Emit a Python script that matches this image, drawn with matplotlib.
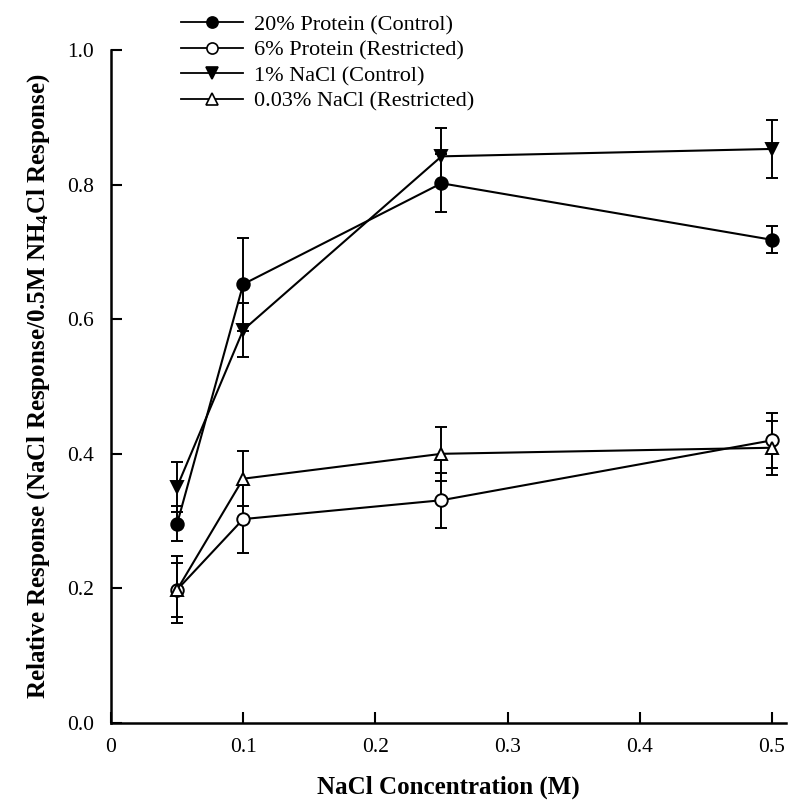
import matplotlib
matplotlib.use('Agg')
import matplotlib.pyplot as plt
from matplotlib.lines import Line2D

# ---- data ----
conc = [0.05, 0.1, 0.25, 0.5]
protein_control = [0.296, 0.652, 0.802, 0.718]
protein_control_err = [0.026, 0.069, 0.043, 0.020]
protein_restricted = [0.198, 0.303, 0.331, 0.420]
protein_restricted_err = [0.050, 0.050, 0.041, 0.041]
nacl_control = [0.351, 0.584, 0.842, 0.853]
nacl_control_err = [0.037, 0.040, 0.042, 0.043]
nacl_restricted = [0.198, 0.363, 0.400, 0.409]
nacl_restricted_err = [0.040, 0.041, 0.040, 0.040]
series_labels = ["20% Protein (Control)", "6% Protein (Restricted)",
                 "1% NaCl (Control)", "0.03% NaCl (Restricted)"]
xticks = [0, 0.1, 0.2, 0.3, 0.4, 0.5]
xticklabels = ["0", "0.1", "0.2", "0.3", "0.4", "0.5"]
yticks = [0.0, 0.2, 0.4, 0.6, 0.8, 1.0]
yticklabels = ["0.0", "0.2", "0.4", "0.6", "0.8", "1.0"]

plt.rcParams['font.family'] = ['Liberation Serif', 'DejaVu Serif']
plt.rcParams['mathtext.fontset'] = 'custom'
plt.rcParams['mathtext.rm'] = 'Liberation Serif'
plt.rcParams['mathtext.bf'] = 'Liberation Serif:bold'
plt.rcParams['mathtext.default'] = 'bf'

fig = plt.figure(figsize=(8, 8.08), dpi=100)
ax = fig.add_axes([0.13875, 0.1052, 0.9825 - 0.13875, 0.9381 - 0.1052])

common = dict(color='black', lw=1.5, ms=9, capsize=4, elinewidth=1.4,
              capthick=1.4, mec='black', mew=1.4)
styles = [('o', 'black'), ('o', 'white'), ('v', 'black'), ('^', 'white')]
data = [(protein_control, protein_control_err),
        (protein_restricted, protein_restricted_err),
        (nacl_control, nacl_control_err),
        (nacl_restricted, nacl_restricted_err)]
handles = []
for (vals, errs), (mk, fc), lab in zip(data, styles, series_labels):
    ax.errorbar(conc, vals, yerr=errs, marker=mk, mfc=fc, zorder=3, **common)
    handles.append(Line2D([], [], color='black', lw=1.3, marker=mk, mfc=fc,
                          mec='black', ms=8, mew=1.2, label=lab))

ax.set_xlim(0, 0.5106)
ax.set_ylim(0, 1.0)
ax.set_xticks(xticks)
ax.set_xticklabels(xticklabels)
ax.set_yticks(yticks)
ax.set_yticklabels(yticklabels)
ax.tick_params(direction='in', length=8, width=1.5, labelsize=15.5)
ax.tick_params(axis='y', pad=12)
ax.tick_params(axis='x', pad=11)
for s in ['top', 'right']:
    ax.spines[s].set_visible(False)
for s in ['left', 'bottom']:
    ax.spines[s].set_linewidth(1.8)

ax.set_xlabel("NaCl Concentration (M)", fontsize=18, fontweight='bold', labelpad=13)
ax.set_ylabel("Relative Response (NaCl Response/0.5M NH$_4$Cl Response)",
              fontsize=18, fontweight='bold', labelpad=11)

fig.legend(handles=handles, loc='upper left', bbox_to_anchor=(181 / 800, 0.982),
           frameon=False, fontsize=16, borderpad=0, borderaxespad=0,
           labelspacing=0.22, handlelength=2.8, handletextpad=0.5)

fig.savefig('out.png', dpi=100)
